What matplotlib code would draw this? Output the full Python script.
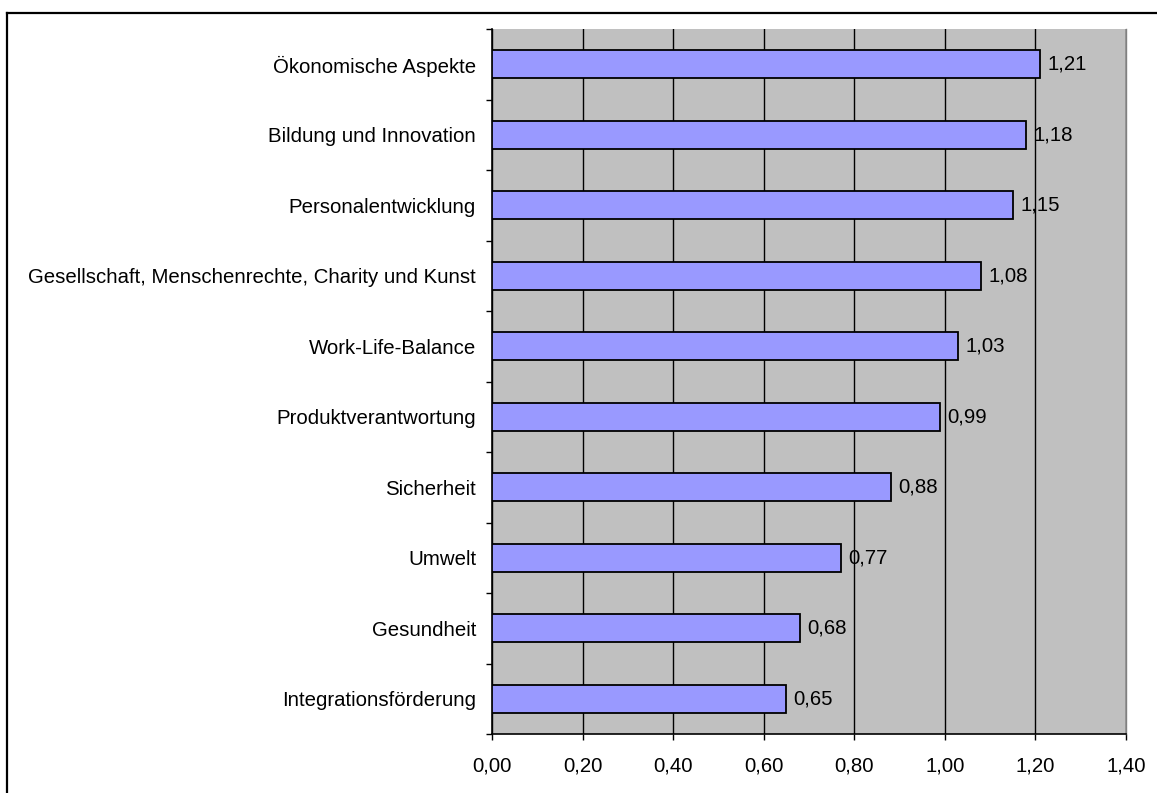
import matplotlib
matplotlib.use("Agg")
import matplotlib.pyplot as plt
from matplotlib.lines import Line2D
from matplotlib.ticker import FuncFormatter, FixedLocator

categories = [
    "Ökonomische Aspekte",
    "Bildung und Innovation",
    "Personalentwicklung",
    "Gesellschaft, Menschenrechte, Charity und Kunst",
    "Work-Life-Balance",
    "Produktverantwortung",
    "Sicherheit",
    "Umwelt",
    "Gesundheit",
    "Integrationsförderung",
]
values = [1.21, 1.18, 1.15, 1.08, 1.03, 0.99, 0.88, 0.77, 0.68, 0.65]
x_ticks = [0.0, 0.2, 0.4, 0.6, 0.8, 1.0, 1.2, 1.4]

plt.rcParams["font.family"] = ["Liberation Sans", "DejaVu Sans"]
FS = 14.7

W, H = 1157, 793
fig = plt.figure(figsize=(W / 100, H / 100), dpi=100)
fig.patch.set_facecolor("white")

# frame lines along the top and left edges of the chart area
fig.add_artist(Line2D([7 / W, 1.0], [1 - 13 / H, 1 - 13 / H], color="black", lw=1.6,
                      transform=fig.transFigure))
fig.add_artist(Line2D([7 / W, 7 / W], [0.0, 1 - 13 / H], color="black", lw=1.6,
                      transform=fig.transFigure))

left, right, top, bottom = 492, 1126, 29, 734
ax = fig.add_axes([left / W, 1 - bottom / H, (right - left) / W, (bottom - top) / H])
ax.set_facecolor("#C0C0C0")

n = len(categories)
ypos = list(range(n))
ax.barh(ypos, values, height=0.4, color="#9999FF", edgecolor="black", linewidth=1.3, zorder=3)

for y, v in zip(ypos, values):
    ax.text(v + 0.016, y, f"{v:.2f}".replace(".", ","), va="center", ha="left",
            fontsize=FS, color="black", zorder=4)

ax.set_xlim(0, 1.4)
ax.set_ylim(n - 0.5, -0.5)

ax.set_xticks(x_ticks)
ax.xaxis.set_major_formatter(FuncFormatter(lambda x, p: f"{x:.2f}".replace(".", ",")))
ax.grid(axis="x", color="black", linewidth=1.0, zorder=1)
ax.set_axisbelow(True)

ax.set_yticks(ypos)
ax.set_yticklabels(categories)
ax.yaxis.set_minor_locator(FixedLocator([i - 0.5 for i in range(n + 1)]))
ax.tick_params(axis="y", which="major", length=0, pad=11.5, labelsize=FS)
ax.tick_params(axis="y", which="minor", length=4, width=1, color="black", direction="out")
ax.tick_params(axis="x", which="major", length=4.3, width=1, color="black", direction="out",
               pad=12, labelsize=FS)

for s in ("left", "bottom"):
    ax.spines[s].set_color("black")
    ax.spines[s].set_linewidth(1.2)
ax.spines["top"].set_visible(False)
ax.spines["right"].set_color("#808080")
ax.spines["right"].set_linewidth(1.0)

fig.savefig("out.png", dpi=100)
